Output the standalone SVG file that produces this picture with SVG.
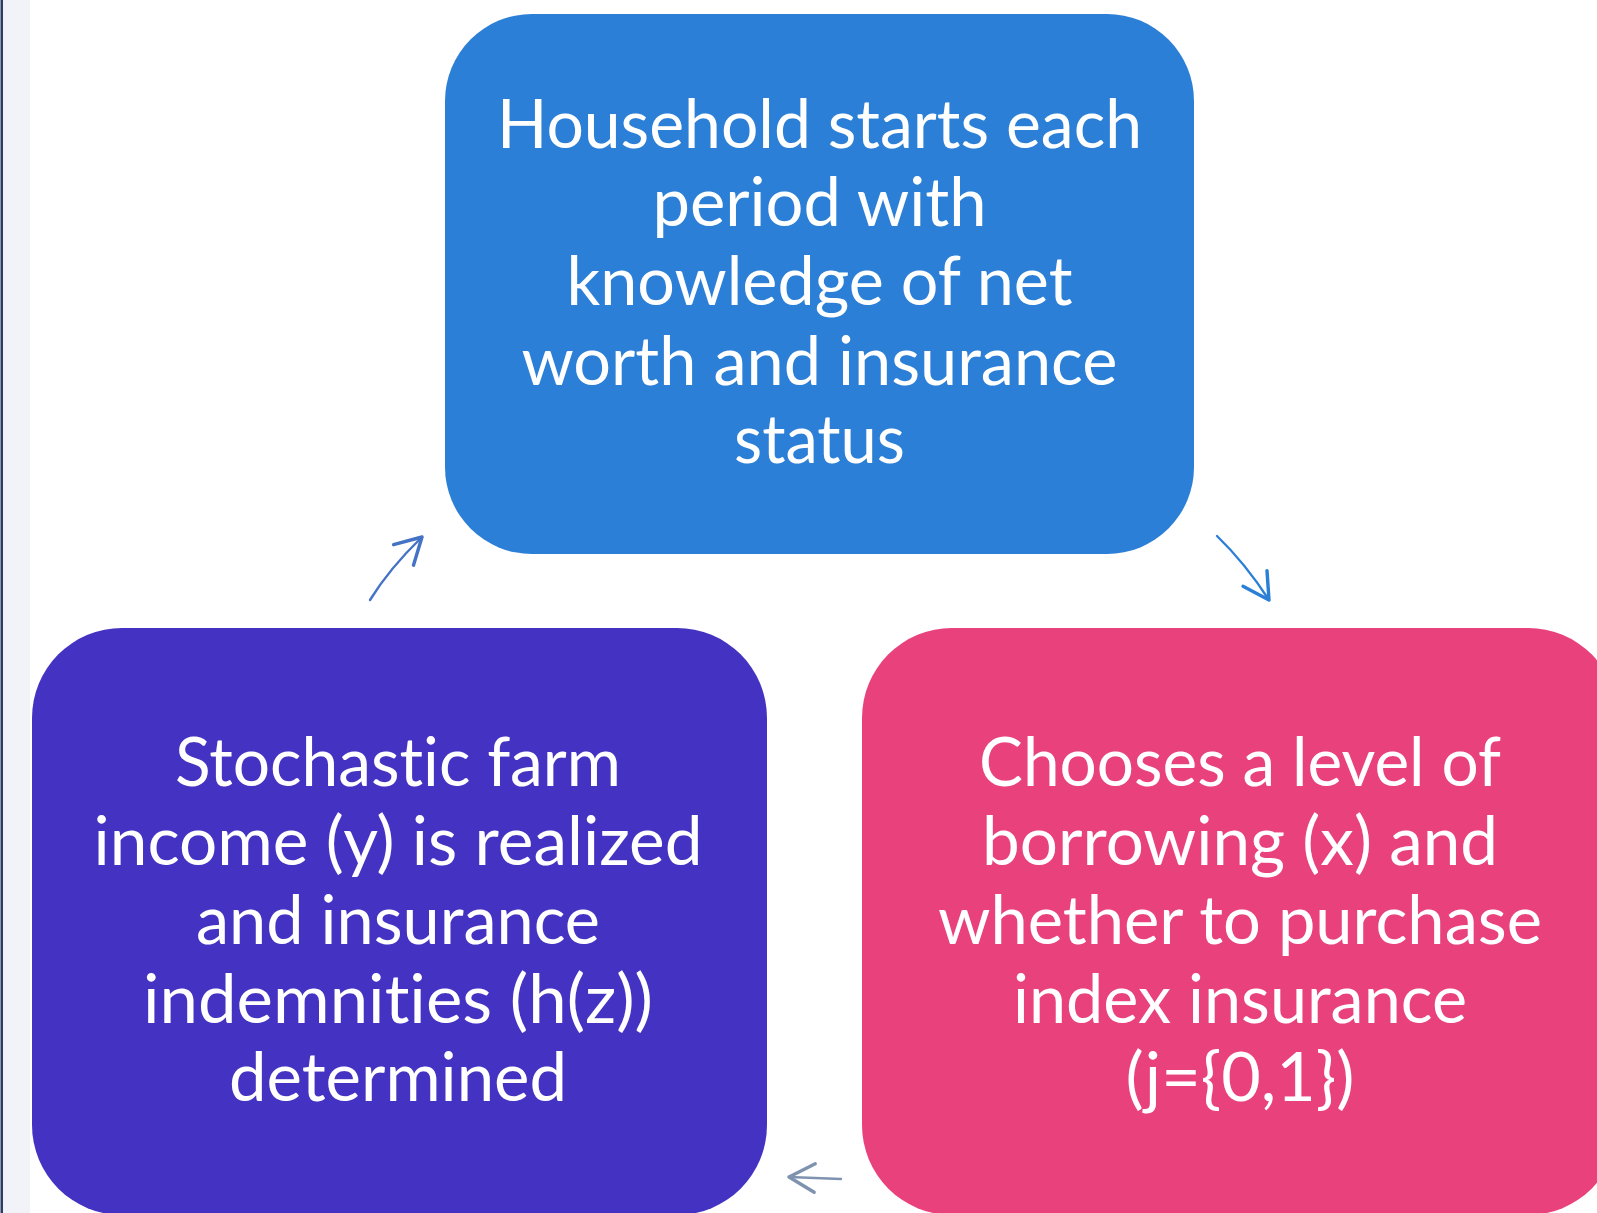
<svg xmlns="http://www.w3.org/2000/svg" width="1597" height="1213" viewBox="0 0 1597 1213">
  <style>
    .lbl { font-family: Lato, "Open Sans", "Liberation Sans", sans-serif; font-size: 67px; fill: #FFFFFF; text-anchor: middle; font-variant-ligatures: none; font-feature-settings: "liga" 0, "clig" 0; }
    .conn { fill: none; stroke-width: 2.4; stroke-linecap: round; }
  </style>
  <defs>
    <marker id="headA" markerUnits="userSpaceOnUse" markerWidth="40" markerHeight="40" viewBox="-22 -14 26 28" refX="0" refY="0" orient="auto">
      <path d="M-18,-10 L0,0 L-18,10" fill="none" stroke="#4472C4" stroke-width="2.4" stroke-linecap="round" stroke-linejoin="round"/>
    </marker>
    <marker id="headB" markerUnits="userSpaceOnUse" markerWidth="40" markerHeight="40" viewBox="-22 -14 26 28" refX="0" refY="0" orient="auto">
      <path d="M-18,-10 L0,0 L-18,10" fill="none" stroke="#2B7FD6" stroke-width="2.4" stroke-linecap="round" stroke-linejoin="round"/>
    </marker>
    <marker id="headC" markerUnits="userSpaceOnUse" markerWidth="40" markerHeight="40" viewBox="-22 -14 26 28" refX="0" refY="0" orient="auto">
      <path d="M-18,-10 L0,0 L-18,10" fill="none" stroke="#7F93B0" stroke-width="2.4" stroke-linecap="round" stroke-linejoin="round"/>
    </marker>
  </defs>

  <!-- page background and left margin strip -->
  <rect x="0" y="0" width="1597" height="1213" fill="#FFFFFF"/>
  <rect x="0" y="0" width="30" height="1213" fill="#F2F3F8"/>
  <rect x="0.5" y="0" width="2.5" height="1213" fill="#2E3B63"/>

  <g id="node-start">
    <rect x="445" y="14" width="749" height="540" rx="87" ry="87" fill="#2B7FD6"/>
    <text class="lbl" x="819.5" y="148" textLength="645" lengthAdjust="spacingAndGlyphs">Household starts each</text>
    <text class="lbl" x="819.5" y="226" textLength="334" lengthAdjust="spacingAndGlyphs">period with</text>
    <text class="lbl" x="819.5" y="305" textLength="506" lengthAdjust="spacingAndGlyphs">knowledge of net</text>
    <text class="lbl" x="819.5" y="385" textLength="596" lengthAdjust="spacingAndGlyphs">worth and insurance</text>
    <text class="lbl" x="819.5" y="463" textLength="171" lengthAdjust="spacingAndGlyphs">status</text>
  </g>

  <g id="node-choose">
    <rect x="862" y="628" width="756" height="587" rx="90" ry="90" fill="#E8417C"/>
    <text class="lbl" x="1240" y="786" textLength="522" lengthAdjust="spacingAndGlyphs">Chooses a level of</text>
    <text class="lbl" x="1240" y="865" textLength="516" lengthAdjust="spacingAndGlyphs">borrowing (x) and</text>
    <text class="lbl" x="1240" y="944" textLength="604" lengthAdjust="spacingAndGlyphs">whether to purchase</text>
    <text class="lbl" x="1240" y="1023" textLength="454" lengthAdjust="spacingAndGlyphs">index insurance</text>
    <text class="lbl" x="1240" y="1101" textLength="229" lengthAdjust="spacingAndGlyphs">(j={0,1})</text>
  </g>

  <g id="node-income">
    <rect x="32" y="628" width="735" height="587" rx="90" ry="90" fill="#4433C2"/>
    <text class="lbl" x="398" y="786" textLength="446" lengthAdjust="spacingAndGlyphs">Stochastic farm</text>
    <text class="lbl" x="398" y="865" textLength="609" lengthAdjust="spacingAndGlyphs">income (y) is realized</text>
    <text class="lbl" x="398" y="944" textLength="404" lengthAdjust="spacingAndGlyphs">and insurance</text>
    <text class="lbl" x="398" y="1023" textLength="510" lengthAdjust="spacingAndGlyphs">indemnities (h(z))</text>
    <text class="lbl" x="398" y="1101" textLength="338" lengthAdjust="spacingAndGlyphs">determined</text>
  </g>

  <g id="connectors">
    <path class="conn" d="M1217,536 Q1245,563 1269,600" stroke="#2B7FD6" marker-end="url(#headB)"/>
    <path class="conn" d="M841,1179 L789,1177" stroke="#7F93B0" marker-end="url(#headC)"/>
    <path class="conn" d="M370,600 Q389,569 422,537" stroke="#4472C4" marker-end="url(#headA)"/>
  </g>
</svg>
